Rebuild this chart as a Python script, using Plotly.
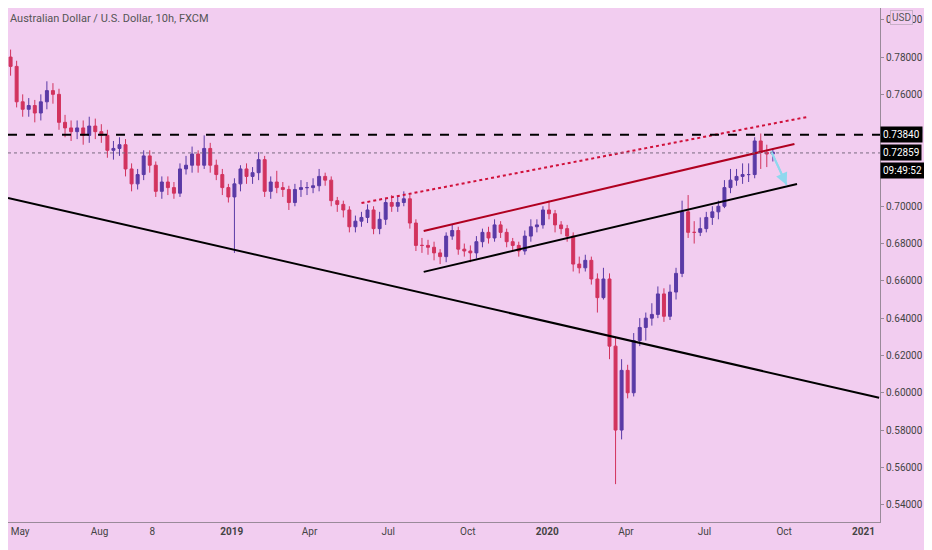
import pandas as pd
import plotly.graph_objects as go

# weekly AUDUSD bars (Apr 2018 - Sep 2020)
start_open = 0.780
close = [0.775, 0.756, 0.752, 0.754, 0.750, 0.756, 0.762, 0.760, 0.745, 0.742,
         0.740, 0.742, 0.738, 0.743, 0.740, 0.738, 0.730, 0.731, 0.733, 0.720,
         0.712, 0.717, 0.727, 0.722, 0.708, 0.713, 0.710, 0.707, 0.720, 0.722,
         0.728, 0.722, 0.731, 0.722, 0.717, 0.710, 0.705,
         0.712, 0.720, 0.716, 0.718, 0.725, 0.708, 0.713, 0.710, 0.709, 0.702,
         0.709, 0.710, 0.710, 0.711, 0.716, 0.714, 0.703, 0.701, 0.698, 0.689,
         0.692, 0.694, 0.698, 0.688, 0.693, 0.702, 0.700, 0.702, 0.704, 0.691,
         0.679, 0.679, 0.678, 0.675, 0.673, 0.684, 0.687, 0.677, 0.676, 0.675,
         0.681, 0.686, 0.683, 0.690, 0.686, 0.681, 0.679, 0.676, 0.684, 0.689,
         0.690, 0.698,
         0.696, 0.690, 0.688, 0.684, 0.669, 0.667, 0.671, 0.661, 0.651, 0.661,
         0.625, 0.580, 0.612, 0.600, 0.628, 0.635, 0.640, 0.642, 0.653, 0.641,
         0.654, 0.664, 0.697, 0.686, 0.686, 0.688, 0.694, 0.697, 0.700, 0.710,
         0.714, 0.716, 0.717, 0.717, 0.735, 0.729, 0.728, 0.729]
high = [0.784, 0.778, 0.760, 0.758, 0.757, 0.760, 0.767, 0.766, 0.763, 0.749,
        0.746, 0.746, 0.746, 0.748, 0.747, 0.744, 0.741, 0.735, 0.737, 0.736,
        0.723, 0.720, 0.730, 0.730, 0.724, 0.716, 0.716, 0.713, 0.723, 0.727,
        0.732, 0.730, 0.738, 0.734, 0.725, 0.720, 0.712,
        0.715, 0.722, 0.723, 0.721, 0.729, 0.727, 0.716, 0.719, 0.713, 0.711,
        0.712, 0.714, 0.713, 0.715, 0.720, 0.718, 0.716, 0.705, 0.703, 0.700,
        0.695, 0.697, 0.701, 0.700, 0.697, 0.704, 0.706, 0.705, 0.708, 0.706,
        0.693, 0.683, 0.682, 0.681, 0.677, 0.686, 0.690, 0.689, 0.680, 0.679,
        0.684, 0.688, 0.689, 0.693, 0.692, 0.688, 0.683, 0.681, 0.687, 0.693,
        0.693, 0.700,
        0.703, 0.698, 0.692, 0.690, 0.686, 0.673, 0.674, 0.673, 0.664, 0.667,
        0.664, 0.630, 0.618, 0.615, 0.632, 0.640, 0.643, 0.648, 0.657, 0.656,
        0.658, 0.667, 0.703, 0.706, 0.692, 0.694, 0.697, 0.700, 0.703, 0.714,
        0.720, 0.720, 0.723, 0.723, 0.737, 0.739, 0.733, 0.731]
low = [0.770, 0.753, 0.748, 0.748, 0.745, 0.746, 0.752, 0.755, 0.741, 0.737,
       0.735, 0.736, 0.733, 0.734, 0.736, 0.734, 0.726, 0.725, 0.727, 0.716,
       0.708, 0.709, 0.714, 0.718, 0.705, 0.704, 0.706, 0.704, 0.705, 0.717,
       0.718, 0.718, 0.720, 0.718, 0.714, 0.706, 0.702,
       0.675, 0.708, 0.712, 0.712, 0.714, 0.705, 0.704, 0.707, 0.705, 0.698,
       0.700, 0.705, 0.706, 0.707, 0.708, 0.711, 0.700, 0.697, 0.694, 0.686,
       0.686, 0.689, 0.691, 0.685, 0.685, 0.690, 0.697, 0.697, 0.700, 0.688,
       0.676, 0.675, 0.674, 0.671, 0.669, 0.670, 0.682, 0.674, 0.673, 0.670,
       0.672, 0.678, 0.680, 0.681, 0.683, 0.678, 0.676, 0.673, 0.674, 0.681,
       0.686, 0.688,
       0.693, 0.686, 0.685, 0.681, 0.665, 0.664, 0.665, 0.658, 0.643, 0.650,
       0.618, 0.551, 0.575, 0.597, 0.598, 0.625, 0.628, 0.636, 0.640, 0.638,
       0.639, 0.650, 0.662, 0.683, 0.680, 0.684, 0.686, 0.690, 0.693, 0.699,
       0.707, 0.711, 0.712, 0.713, 0.715, 0.720, 0.721, 0.724]
open_ = [start_open] + close[:-1]
dates = pd.date_range("2018-04-20", periods=len(close), freq="7D")

# drawn lines (date, price)
support_long = (["2018-04-17", "2021-01-19"], [0.7045, 0.5973])
red_dotted = (["2019-05-31", "2020-10-27"], [0.7017, 0.7478])
red_channel = (["2019-08-11", "2020-10-13"], [0.6867, 0.7334])
black_channel = (["2019-08-11", "2020-10-16"], [0.6648, 0.7119])
arrow = (["2020-09-16", "2020-10-04"], [0.7296, 0.7114])
resistance = 0.73840
last_price = 0.72859

x_range = ["2018-04-17", "2021-01-20"]
x_ticks = ["2018-05-01", "2018-08-01", "2018-10-01", "2019-01-01", "2019-04-01",
           "2019-07-01", "2019-10-01", "2020-01-01", "2020-04-01", "2020-07-01",
           "2020-10-01", "2021-01-01"]
x_labels = ["May", "Aug", "8", "<b>2019</b>", "Apr", "Jul", "Oct", "<b>2020</b>",
            "Apr", "Jul", "Oct", "<b>2021</b>"]
y_ticks = [0.54 + 0.02 * i for i in range(14)]

fig = go.Figure()
fig.add_trace(go.Candlestick(
    x=dates, open=open_, high=high, low=low, close=close,
    increasing=dict(line=dict(color="#5a3aa6", width=1), fillcolor="#5a3aa6"),
    decreasing=dict(line=dict(color="#d2335e", width=1), fillcolor="#d2335e"),
    whiskerwidth=0, showlegend=False, hoverinfo="skip"))

def line(pts, color, width, dash="solid"):
    fig.add_trace(go.Scatter(x=pts[0], y=pts[1], mode="lines",
                             line=dict(color=color, width=width, dash=dash),
                             showlegend=False, hoverinfo="skip"))

line(support_long, "black", 2)
line(red_dotted, "#d0103a", 2, "dot")
line(red_channel, "#b00020", 2)
line(black_channel, "black", 2)
line(arrow, "#8fd8ee", 2)
line((x_range, [resistance, resistance]), "black", 2, "dash")
line((x_range, [last_price, last_price]), "#7a6a80", 1, "dot")

fig.add_annotation(x=arrow[0][1], y=arrow[1][1], ax=arrow[0][0], ay=arrow[1][0],
                   xref="x", yref="y", axref="x", ayref="y", text="",
                   showarrow=True, arrowhead=2, arrowsize=1.2, arrowwidth=2,
                   arrowcolor="#8fd8ee")

for val, txt in [(resistance, "0.73840"), (last_price, "0.72859")]:
    fig.add_annotation(x=1, xref="paper", y=val, yref="y", text=txt,
                       xanchor="left", showarrow=False, bgcolor="black",
                       font=dict(color="white", size=10), borderpad=2)
fig.add_annotation(x=1, xref="paper", y=last_price - 0.0092, yref="y",
                   text="09:49:52", xanchor="left", showarrow=False,
                   bgcolor="black", font=dict(color="white", size=10), borderpad=2)
fig.add_annotation(x=1.025, xref="paper", y=1, yref="paper", text="USD",
                   xanchor="center", yanchor="top", showarrow=False,
                   bgcolor="#f2cdf0", bordercolor="#c8b0c8", borderwidth=1,
                   font=dict(color="#555", size=10), yshift=-2)
fig.add_annotation(x=0.0, xref="paper", y=1, yref="paper",
                   text="Australian Dollar / U.S. Dollar, 10h, FXCM",
                   xanchor="left", yanchor="top", showarrow=False,
                   font=dict(color="#555", size=11), yshift=-2)

fig.update_layout(
    width=916, height=542,
    margin=dict(l=0, r=44, t=0, b=28),
    plot_bgcolor="#f2cdf0", paper_bgcolor="#f2cdf0",
    font=dict(family="Roboto, Arial", color="#444", size=10),
    xaxis=dict(range=x_range, tickvals=x_ticks, ticktext=x_labels,
               showgrid=False, rangeslider=dict(visible=False), ticks="",
               showline=True, linecolor="#9a8a9a", zeroline=False),
    yaxis=dict(range=[0.5307, 0.8063], side="right", tickvals=y_ticks,
               tickformat=".5f", showgrid=False, ticks="outside", ticklen=3,
               tickcolor="#9a8a9a", showline=True, linecolor="#9a8a9a",
               zeroline=False),
)

fig.write_html("out.html")
